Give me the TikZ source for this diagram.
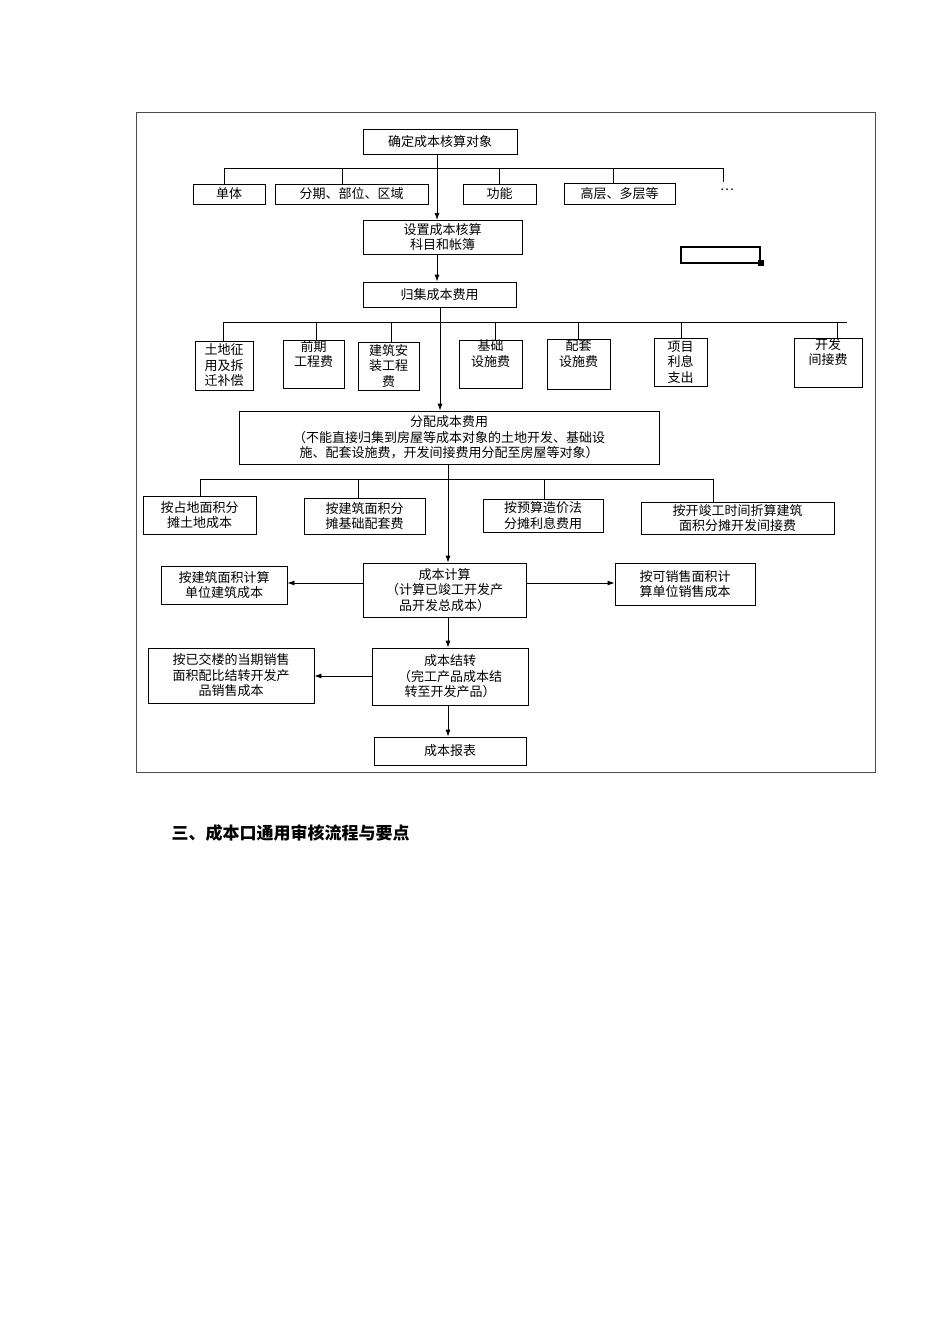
\documentclass[tikz,border=0pt]{standalone}
\usepackage{fontspec}
\setmainfont{Noto Sans CJK SC}
\usetikzlibrary{arrows.meta}
\begin{document}
\begin{tikzpicture}[x=1pt,y=-1pt,
  box/.style={draw,line width=0.8pt,inner sep=0pt,align=center,font=\fontsize{13}{15.5}\selectfont},
  conn/.style={line width=0.8pt},
  arr/.style={line width=0.8pt,-{Latex[length=7pt,width=5pt]}}]
\useasboundingbox (0,0) rectangle (950,1344);
\draw[line width=0.8pt,black!70] (136,112) rectangle (875,772);
% top
\node[box,minimum width=154,minimum height=25] (A) at (440,141.5) {确定成本核算对象};
\node[box,minimum width=72,minimum height=20] (k1) at (229,194) {单体};
\node[box,minimum width=153,minimum height=20] (k2) at (351.5,194) {分期、部位、区域};
\node[box,minimum width=73,minimum height=20] (k3) at (499.5,194) {功能};
\node[box,minimum width=111,minimum height=21] (k4) at (619.5,193.5) {高层、多层等};
\node[font=\fontsize{13}{15}\selectfont] (k5) at (727,190) {…};
\coordinate (b1L) at (224,168); \coordinate (b1R) at (723,168);
\draw[conn] (b1L) -- (b1R);
\draw[conn] (b1L) -- (b1L |- k1.north);
\draw[conn] (k2.north -| 342,0) -- (342,168);
\draw[conn] (k3.north) -- (k3.north |- b1L);
\draw[conn] (k4.north -| 613,0) -- (613,168);
\draw[conn] (b1R) -- (723,182);
\node[box,minimum width=159,minimum height=34] (B) at (442.5,237) {设置成本核算\\科目和帐簿};
\draw[arr] (A.south -| 437,0) -- (437,220);
\node[box,minimum width=153,minimum height=25] (C) at (439.5,294.5) {归集成本费用};
\draw[arr] (B.south -| 437,0) -- (C.north -| 437,0);
\draw[line width=2.2pt] (681,247) rectangle (760,263);
\fill (758,260) rectangle (764,266);
% row 1
\node[box,minimum width=58,minimum height=49] (r1) at (224,365.5) {土地征\\用及拆\\迁补偿};
\node[box,minimum width=61,minimum height=47] (r2) at (313.5,364.5) {前期\\工程费\\[6pt]};
\node[box,minimum width=61,minimum height=48] (r3) at (388.5,366) {建筑安\\装工程\\费};
\node[box,minimum width=63,minimum height=48] (r4) at (490.5,364) {基础\\设施费\\[6pt]};
\node[box,minimum width=63,minimum height=50] (r5) at (578.5,364) {配套\\设施费\\[6pt]};
\node[box,minimum width=53,minimum height=48,align=left] (r6) at (680.5,362) {项目\\利息\\支出};
\node[box,minimum width=68,minimum height=49] (r7) at (828,362.5) {开发\\间接费\\[6pt]};
\coordinate (b2L) at (223,322); \coordinate (b2R) at (847,322);
\draw[conn] (b2L) -- (b2R);
\foreach \n/\x in {r1/223,r2/316,r3/391,r4/495,r5/578,r6/681,r7/837}
  \draw[conn] (\x,322) -- (\n.north -| \x,0);
\node[box,minimum width=420,minimum height=53] (D) at (449,437.5) {分配成本费用\\（不能直接归集到房屋等成本对象的土地开发、基础设\\施、配套设施费，开发间接费用分配至房屋等对象）};
\draw[arr] (C.south -| 440,0) -- (D.north -| 440,0);
% row 2
\node[box,minimum width=113,minimum height=38] (s1) at (199.5,515) {按占地面积分\\摊土地成本};
\node[box,minimum width=121,minimum height=36] (s2) at (364.5,516) {按建筑面积分\\摊基础配套费};
\node[box,minimum width=120,minimum height=33] (s3) at (543,515.5) {按预算造价法\\分摊利息费用};
\node[box,minimum width=193,minimum height=32] (s4) at (737.5,518) {按开竣工时间折算建筑\\面积分摊开发间接费};
\coordinate (b3L) at (200,479); \coordinate (b3R) at (713,479);
\draw[conn] (b3L) -- (b3R);
\foreach \n/\x in {s1/200,s2/358,s3/544,s4/713}
  \draw[conn] (\x,479) -- (\n.north -| \x,0);
\node[box,minimum width=163,minimum height=54] (E) at (444.5,590) {成本计算\\（计算已竣工开发产\\品开发总成本）};
\draw[arr] (D.south -| 448,0) -- (E.north -| 448,0);
\node[box,minimum width=126,minimum height=38] (EL) at (224,585) {按建筑面积计算\\单位建筑成本};
\node[box,minimum width=140,minimum height=42] (ER) at (685,584) {按可销售面积计\\算单位销售成本};
\draw[arr] (E.west |- 0,583) -- (EL.east |- 0,583);
\draw[arr] (E.east |- 0,583) -- (ER.west |- 0,583);
\node[box,minimum width=156,minimum height=57] (F) at (450,676.5) {成本结转\\（完工产品成本结\\转至开发产品）};
\draw[arr] (E.south -| 448,0) -- (F.north -| 448,0);
\node[box,minimum width=166,minimum height=55] (FL) at (231,675.5) {按已交楼的当期销售\\面积配比结转开发产\\品销售成本};
\draw[arr] (F.west |- 0,676) -- (FL.east |- 0,676);
\node[box,minimum width=152,minimum height=28] (G) at (450,751) {成本报表};
\draw[arr] (F.south -| 448,0) -- (G.north -| 448,0);
\node[anchor=west,font=\fontsize{17}{20}\selectfont\bfseries] (H) at (168,833) {三、成本口通用审核流程与要点};
\end{tikzpicture}
\end{document}
